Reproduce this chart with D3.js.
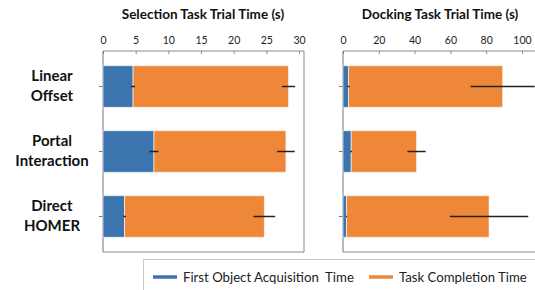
<!DOCTYPE html>
<html>
<head>
<meta charset="utf-8">
<script src="https://cdn.jsdelivr.net/npm/d3@7"></script>
<style>
  body { margin:0; background:#fff; }
  svg { font-family: Lato, "Open Sans", sans-serif; }
</style>
</head>
<body>
<div id="chart"></div>
<script>
// data
let categories = ['Linear Offset', 'Portal Interaction', 'Direct HOMER']
let selAcq    = [4.6, 7.8, 3.3]
let selAcqErr = [0.3, 0.7, 0.2]
let selTotal  = [28.4, 28.0, 24.7]
let selTotErr = [1.0, 1.35, 1.65]
let dockAcq    = [3.1, 4.6, 2.0]
let dockAcqErr = [0.6, 0.5, 0.3]
let dockTotal  = [89.2, 41.1, 81.6]
let dockTotErr = [17.9, 5.1, 21.9]
let selTicks  = [0, 5, 10, 15, 20, 25, 30]
let dockTicks = [0, 20, 40, 60, 80, 100]
let legendLabels = ['First Object Acquisition  Time', 'Task Completion Time']

let blue = '#3b74af', orange = '#ee8838'

let width = 535, height = 290
let plotTop = 51, plotBottom = 252

let svg = d3.select('#chart').append('svg')
  .attr('width', width).attr('height', height)

let yScale = d3.scaleBand().domain(categories).range([54, 249]).paddingInner(0.36).paddingOuter(0.18)

function panel(x0, x1, domain, ticks, acq, acqErr, total, totErr, title, frameRight) {
  let xScale = d3.scaleLinear().domain(domain).range([x0, x1])
  let g = svg.append('g')

  if (frameRight) {
    g.append('line').attr('x1', frameRight).attr('x2', frameRight).attr('y1', plotTop).attr('y2', plotBottom)
      .attr('stroke', '#8a8a8a')
  }
  g.append('line').attr('x1', x0).attr('x2', frameRight || width).attr('y1', plotBottom).attr('y2', plotBottom)
    .attr('stroke', '#8a8a8a')

  let xAxis = d3.axisTop(xScale).tickValues(ticks).tickSize(-3).tickPadding(7)
  let ax = g.append('g').attr('transform', `translate(0,${plotTop})`).call(xAxis)
  ax.select('.domain').attr('stroke', '#8a8a8a').attr('d', `M${x0},0H${frameRight || width}`)
  ax.selectAll('.tick line').attr('stroke', '#8a8a8a')
  ax.selectAll('.tick text').attr('font-size', 10.5).attr('fill', '#222').attr('font-family', 'Lato, sans-serif')

  let yAxis = d3.axisLeft(yScale).tickSize(4).tickFormat('')
  let ay = g.append('g').attr('transform', `translate(${x0},0)`).call(yAxis)
  ay.select('.domain').attr('stroke', '#777').attr('d', `M0,${plotTop}V${plotBottom}`)
  ay.selectAll('.tick line').attr('stroke', '#777')

  g.selectAll('.acq').data(categories).enter().append('rect')
    .attr('x', xScale(0))
    .attr('y', d => yScale(d))
    .attr('width', (d, i) => xScale(acq[i]) - xScale(0))
    .attr('height', yScale.bandwidth())
    .attr('fill', blue).attr('stroke', '#fff').attr('stroke-opacity', 0.6).attr('stroke-width', 1)

  g.selectAll('.tot').data(categories).enter().append('rect')
    .attr('x', (d, i) => xScale(acq[i]))
    .attr('y', d => yScale(d))
    .attr('width', (d, i) => xScale(total[i]) - xScale(acq[i]))
    .attr('height', yScale.bandwidth())
    .attr('fill', orange).attr('stroke', '#fff').attr('stroke-opacity', 0.6).attr('stroke-width', 1)

  let cy = d => yScale(d) + yScale.bandwidth() / 2
  g.selectAll('.e1').data(categories).enter().append('line')
    .attr('x1', (d, i) => xScale(acq[i] - acqErr[i]))
    .attr('x2', (d, i) => xScale(acq[i] + acqErr[i]))
    .attr('y1', cy).attr('y2', cy)
    .attr('stroke', '#222').attr('stroke-width', 1.5)
  g.selectAll('.e2').data(categories).enter().append('line')
    .attr('x1', (d, i) => xScale(total[i] - totErr[i]))
    .attr('x2', (d, i) => xScale(total[i] + totErr[i]))
    .attr('y1', cy).attr('y2', cy)
    .attr('stroke', '#222').attr('stroke-width', 1.5)

  g.append('text').attr('x', title.x).attr('y', 19).attr('text-anchor', 'middle')
    .attr('font-size', 13.5).attr('font-weight', 'bold').attr('fill', '#111').text(title.text)
}

panel(103, 299, [0, 30], selTicks, selAcq, selAcqErr, selTotal, selTotErr,
  { text: 'Selection Task Trial Time (s)', x: 203 }, 304)
panel(343, 522, [0, 100], dockTicks, dockAcq, dockAcqErr, dockTotal, dockTotErr,
  { text: 'Docking Task Trial Time (s)', x: 440 }, null)

// category labels
let labels = svg.append('g')
categories.forEach(c => {
  let words = c.split(' ')
  let cy = yScale(c) + yScale.bandwidth() / 2
  let t = labels.append('text').attr('text-anchor', 'middle').attr('font-size', 15)
    .attr('font-weight', 'bold').attr('fill', '#111')
  words.forEach((w, i) => {
    t.append('tspan').attr('x', 52).attr('y', cy - 6 + i * 20).text(w)
  })
})

// legend
let lg = svg.append('g')
lg.append('rect').attr('x', 143.5).attr('y', 259.5).attr('width', 400).attr('height', 40)
  .attr('fill', '#fff').attr('stroke', '#c8c8c8')
let legX = [153, 369]
let legCol = [blue, orange]
legendLabels.forEach((l, i) => {
  lg.append('line').attr('x1', legX[i]).attr('x2', legX[i] + 24).attr('y1', 277).attr('y2', 277)
    .attr('stroke', legCol[i]).attr('stroke-width', 3.5)
  lg.append('text').attr('x', legX[i] + 30).attr('y', 281.5).attr('font-size', 13.2)
    .style('white-space', 'pre')
    .attr('fill', '#222').text(l)
})
</script>
</body>
</html>
